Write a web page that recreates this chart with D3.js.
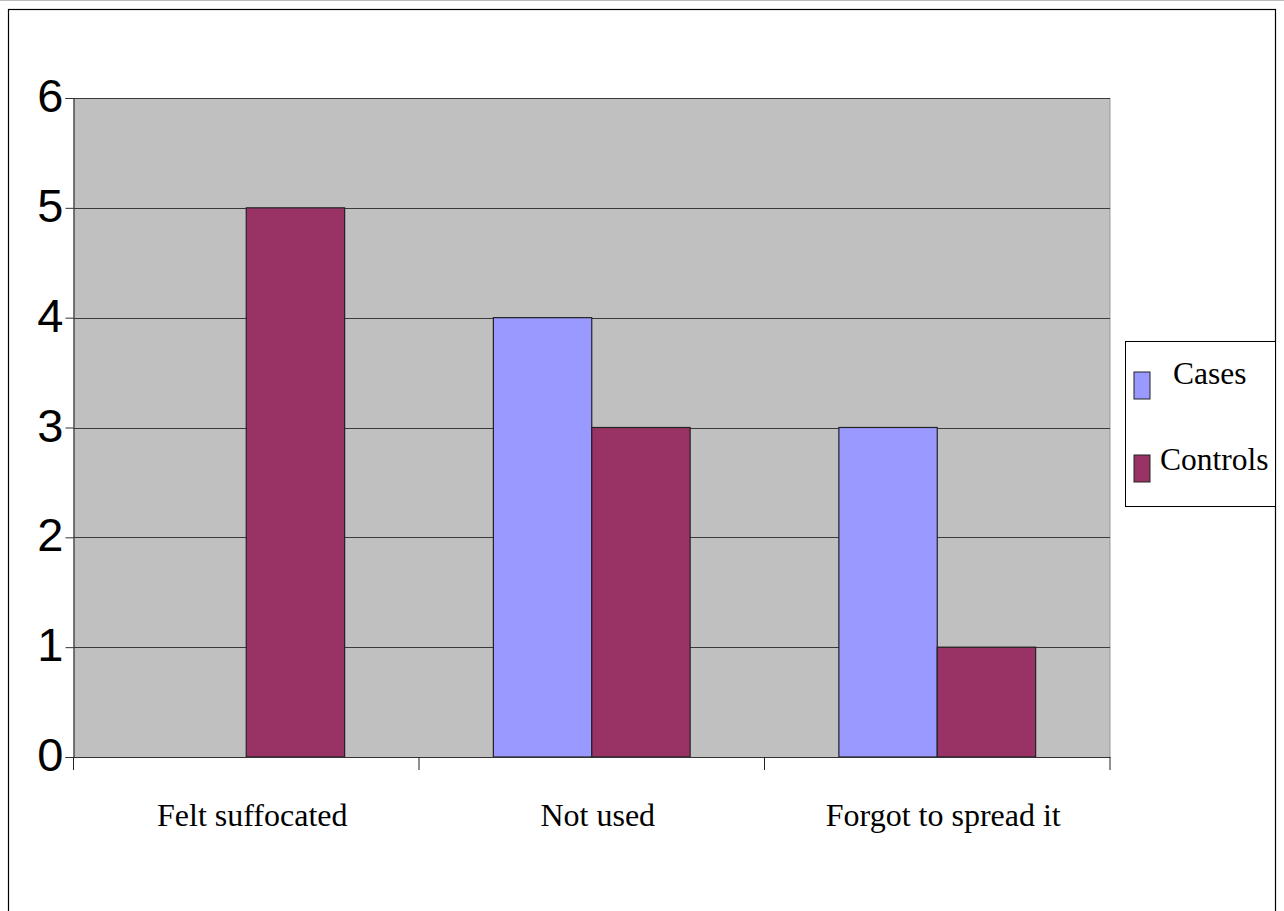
<!DOCTYPE html>
<html><head><meta charset="utf-8">
<script src="https://cdn.jsdelivr.net/npm/d3@7"></script>
<style>body{margin:0;background:#fff}svg{display:block}</style>
</head><body>
<svg id="c" width="1284" height="911"></svg>
<script>
const categories = ["Felt suffocated", "Not used", "Forgot to spread it"];
const seriesNames = ["Cases", "Controls"];
const cases = [0, 4, 3];
const controls = [5, 3, 1];
const yTicks = [0, 1, 2, 3, 4, 5, 6];
const colors = ["#9999ff", "#993366"];

const svg = d3.select("#c");
const L = 73.5, R = 1110, T = 98, B = 757;

// outer frame
svg.append("line").attr("x1",0).attr("x2",1284).attr("y1",0.5).attr("y2",0.5).attr("stroke","#bbb");
svg.append("rect").attr("x",8.5).attr("y",9.5).attr("width",1267).attr("height",920)
  .attr("fill","none").attr("stroke","#000").attr("stroke-width",1.2);

const y = d3.scaleLinear().domain([0,6]).range([B,T]);
const x0 = d3.scaleBand().domain(categories).range([L,R]).paddingInner(0).paddingOuter(0);
const x1 = d3.scaleBand().domain(seriesNames).range([0,x0.bandwidth()]).paddingInner(0).paddingOuter(0.756);

// plot background
svg.append("rect").attr("x",L).attr("y",T).attr("width",R-L).attr("height",B-T).attr("fill","#c0c0c0");
svg.append("line").attr("x1",R).attr("x2",R).attr("y1",T).attr("y2",B).attr("stroke","#999");

// gridlines
svg.append("g").selectAll("line").data(yTicks.filter(d=>d>0)).join("line")
  .attr("x1",L).attr("x2",R).attr("y1",d=>Math.round(y(d))+0.5).attr("y2",d=>Math.round(y(d))+0.5)
  .attr("stroke","#3a3a3a").attr("stroke-width",1.2);

// bars
const rows = categories.map((c,i)=>({cat:c, vals:[cases[i], controls[i]]}));
const g = svg.append("g");
rows.forEach(r=>{
  r.vals.forEach((v,j)=>{
    if (v<=0) return;
    g.append("rect")
      .attr("x", x0(r.cat)+x1(seriesNames[j]))
      .attr("y", y(v))
      .attr("width", x1.bandwidth())
      .attr("height", y(0)-y(v))
      .attr("fill", colors[j]).attr("stroke","#222").attr("stroke-width",1.2);
  });
});

// y axis
const ya = svg.append("g").attr("transform",`translate(${L},0)`)
  .call(d3.axisLeft(y).tickValues(yTicks).tickSize(8).tickPadding(2).tickFormat(d3.format("d")));
ya.select(".domain").attr("stroke","#333").attr("stroke-width",1.2);
ya.selectAll(".tick line").attr("stroke","#333");
ya.selectAll("text").attr("font-family","'Liberation Sans', Arial, sans-serif").attr("font-size",47)
  .attr("fill","#000").attr("dy","0.29em");

// x axis
const xa = svg.append("g").attr("transform",`translate(0,${B})`)
  .call(d3.axisBottom(x0).tickSize(0).tickPadding(0));
xa.select(".domain").attr("stroke","#333").attr("stroke-width",1.2);
xa.selectAll(".tick text").attr("font-family","'Liberation Serif', 'Times New Roman', serif")
  .attr("font-size",32).attr("fill","#000").attr("dy",0).attr("y",69).attr("x",6);
const bounds = [L].concat(categories.map(c=>x0(c)+x0.bandwidth()));
xa.append("g").selectAll("line").data(bounds).join("line")
  .attr("x1",d=>d).attr("x2",d=>d).attr("y1",0).attr("y2",13).attr("stroke","#222");

// legend
const lg = svg.append("g");
lg.append("rect").attr("x",1125.5).attr("y",341.5).attr("width",150).attr("height",165)
  .attr("fill","#fff").attr("stroke","#000");
const legY = [372, 455], legTx = [1173, 1160], legBase = [384, 470];
seriesNames.forEach((s,i)=>{
  lg.append("rect").attr("x",1134).attr("y",legY[i]).attr("width",16).attr("height",27)
    .attr("fill",colors[i]).attr("stroke","#222");
  lg.append("text").attr("x",legTx[i]).attr("y",legBase[i]).text(s)
    .attr("font-family","'Liberation Serif', 'Times New Roman', serif").attr("font-size",31.5).attr("fill","#000");
});
</script>
</body></html>
